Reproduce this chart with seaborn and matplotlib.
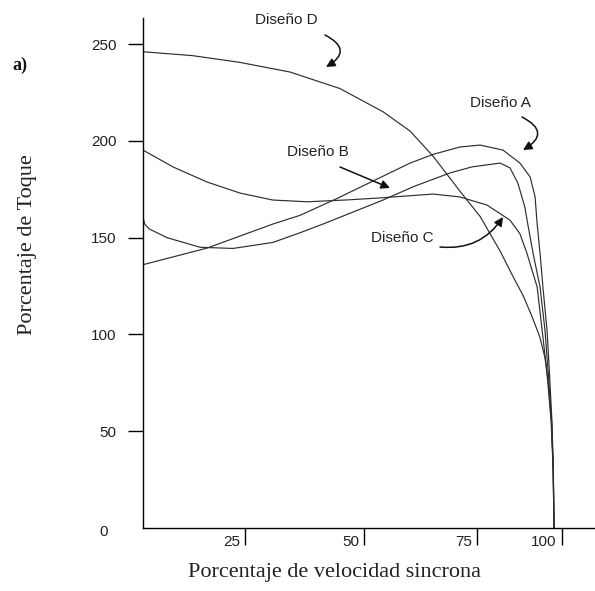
import numpy as np
import pandas as pd
import matplotlib
matplotlib.use("Agg")
import matplotlib.pyplot as plt
import matplotlib.transforms as mtransforms
import seaborn as sns

# ---------------- data ----------------
speed_A = [0, 15.6, 31.6, 38.2, 47.0, 57.7, 65.0, 70.6, 77.1, 82.0, 87.6, 91.7,
           94.2, 95.4, 95.9, 96.6, 97.3, 98.3, 98.9, 99.5, 99.85, 100]
torque_A = [136, 144.6, 157.0, 161.5, 170.0, 181.0, 188.5, 193.0, 196.8, 197.8, 195.2, 188.5,
            181.3, 171.0, 157.0, 142.0, 124.5, 102.3, 80, 55, 30, 0]

speed_B = [0, 0.4, 1.5, 5.8, 13.9, 21.9, 31.6, 38.2, 43.8, 58.4, 66.0, 74.7, 80.0,
           86.9, 89.3, 91.2, 92.9, 93.7, 94.9, 96.6, 97.8, 98.6, 99.4, 99.8, 100]
torque_B = [160.6, 157.0, 154.5, 150.0, 145.0, 144.4, 147.5, 152.5, 157.0, 169.4, 176.5, 183.4, 186.5,
            188.5, 186.0, 178.2, 165.8, 156.0, 142.0, 124.5, 102.3, 80, 55, 30, 0]

speed_C = [0, 7.3, 15.6, 23.6, 31.6, 39.9, 50.0, 57.7, 70.6, 77.1, 83.7, 89.3,
           91.7, 93.4, 95.9, 97.1, 98.3, 99.3, 99.8, 100]
torque_C = [195.2, 186.5, 178.7, 173.0, 169.4, 168.5, 169.5, 170.5, 172.5, 171.0, 166.8, 159.0,
            152.0, 142.0, 124.5, 102.3, 80, 55, 30, 0]

speed_D = [0, 12.0, 23.6, 35.8, 47.9, 58.4, 65.0, 70.6, 77.1, 82.0, 86.9, 90.0,
           92.5, 94.5, 96.5, 97.8, 98.8, 99.4, 99.8, 100]
torque_D = [246, 244, 240.5, 235.5, 227, 215, 205, 192, 174, 161, 143, 130,
            120, 110, 99, 88, 72, 55, 32, 0]

designs = ["Diseño A", "Diseño B", "Diseño C", "Diseño D"]
y_ticks = [0, 50, 100, 150, 200, 250]
x_tick_labels = ["25", "50", "75", "100"]
x_tick_pos = [24.8, 53.8, 81.3, 101.9]   # where the tick marks are drawn

frames = []
for name, sx, ty in zip(designs, [speed_A, speed_B, speed_C, speed_D],
                        [torque_A, torque_B, torque_C, torque_D]):
    frames.append(pd.DataFrame({"speed": sx, "torque": ty, "design": name}))
df = pd.concat(frames, ignore_index=True)

# ---------------- figure ----------------
sns.set_theme(style="white")
plt.rcParams["font.family"] = ["Liberation Sans", "DejaVu Sans"]

W, H = 595, 591
fig = plt.figure(figsize=(W / 100, H / 100), dpi=100)
ax = fig.add_axes([143 / W, 1 - 528 / H, 1 - 143 / W, (528 - 18) / H])

line_col = "#2e2e2e"
sns.lineplot(data=df, x="speed", y="torque", hue="design", units="design",
             estimator=None, sort=False, legend=False,
             palette={d: line_col for d in designs}, linewidth=0.85, ax=ax)

ax.set_xlim(0, (W - 143) / 4.11)
ax.set_ylim(0, (528 - 18) / 1.936)

for s in ["top", "right"]:
    ax.spines[s].set_visible(False)
for s in ["left", "bottom"]:
    ax.spines[s].set_color("black")
    ax.spines[s].set_linewidth(1.0)

# y ticks
ax.set_yticks(y_ticks)
ax.set_yticklabels([str(v) for v in y_ticks])
ax.tick_params(axis="y", direction="out", length=11, width=1.0, pad=8,
               labelsize=11, color="black", labelcolor="#222222", left=True)
ax.yaxis.get_major_ticks()[0].tick1line.set_visible(False)
lab0 = ax.get_yticklabels()[0]
lab0.set_transform(lab0.get_transform() +
                   mtransforms.ScaledTranslation(-9 / 100, -3 / 100, fig.dpi_scale_trans))

# x ticks
ax.set_xticks(x_tick_pos)
ax.set_xticklabels(x_tick_labels)
ax.tick_params(axis="x", direction="out", length=12.5, width=1.0, pad=-7.5,
               labelsize=11, color="black", labelcolor="#222222", bottom=True)
for lab in ax.get_xticklabels():
    lab.set_horizontalalignment("right")
    lab.set_transform(lab.get_transform() +
                      mtransforms.ScaledTranslation(-5 / 100, 0, fig.dpi_scale_trans))

ax.set_xlabel("Porcentaje de velocidad sincrona", family=["Liberation Serif"],
              fontsize=16, color="#222222")
ax.set_ylabel("Porcentaje de Toque", family=["Liberation Serif"],
              fontsize=16, color="#222222")
ax.xaxis.set_label_coords((334 - 143) / (W - 143), -(563 - 528) / (528 - 18))
ax.yaxis.set_label_coords(-(143 - 37) / (W - 143), (528 - 245) / (528 - 18))

fig.text(20 / W, 1 - 65 / H, "a)", family=["Liberation Serif"], fontweight="bold",
         fontsize=13, ha="center", va="center", color="#111111")


def px(xp, yp):
    return ((xp - 143) / 4.11, (528 - yp) / 1.936)


label_kw = dict(fontsize=11, ha="center", va="center", color="#222222")
arrow_kw = dict(arrowstyle="-|>", color="#111111", lw=1.1, mutation_scale=13,
                shrinkA=0, shrinkB=0)

# Diseño D
ax.text(*px(286, 20), "Diseño D", **label_kw, clip_on=False)
ax.annotate("", xy=px(326, 67), xytext=px(325, 35),
            arrowprops=dict(**arrow_kw, connectionstyle="arc3,rad=-0.9"), annotation_clip=False)
# Diseño A
ax.text(*px(500, 103), "Diseño A", **label_kw)
ax.annotate("", xy=px(523, 150), xytext=px(522, 117),
            arrowprops=dict(**arrow_kw, connectionstyle="arc3,rad=-0.9"))
# Diseño B
ax.text(*px(318, 152), "Diseño B", **label_kw)
ax.annotate("", xy=px(390, 188), xytext=px(340, 167),
            arrowprops=dict(**arrow_kw, connectionstyle="arc3,rad=0"))
# Diseño C
ax.text(*px(402, 238), "Diseño C", **label_kw)
ax.annotate("", xy=px(503, 217), xytext=px(440, 247),
            arrowprops=dict(**arrow_kw, connectionstyle="arc3,rad=0.3"))

fig.savefig("out.png", dpi=100)
